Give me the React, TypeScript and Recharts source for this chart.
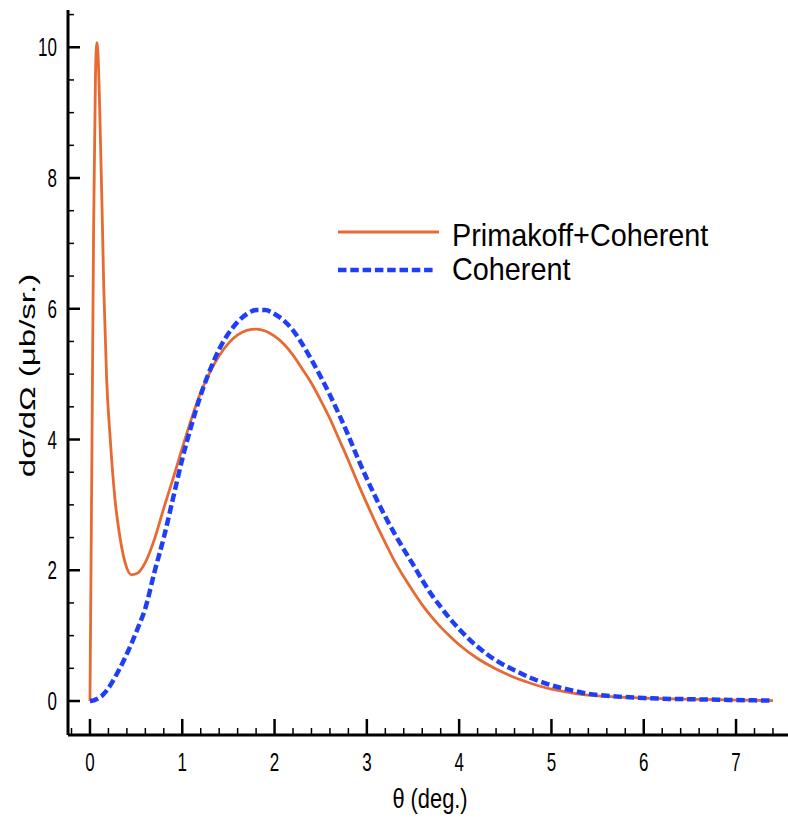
import React from 'react';
import { LineChart, Line, XAxis, YAxis, Legend } from 'recharts';

// scattering angle (deg.)
const theta = [
  0, 0.02, 0.04, 0.06, 0.075, 0.09, 0.11, 0.13, 0.15, 0.18,
  0.22, 0.27, 0.32, 0.38, 0.45, 0.52, 0.6, 0.7, 0.8, 0.9,
  1.0, 1.1, 1.2, 1.3, 1.4, 1.5, 1.6, 1.7, 1.8, 1.9,
  2.0, 2.1, 2.2, 2.3, 2.4, 2.5, 2.6, 2.7, 2.8, 2.9,
  3.0, 3.1, 3.2, 3.3, 3.4, 3.5, 3.6, 3.7, 3.8, 3.9,
  4.0, 4.2, 4.4, 4.6, 4.8, 5.0, 5.2, 5.4, 5.6, 5.8,
  6.0, 6.2, 6.4, 6.6, 6.8, 7.0, 7.2, 7.4,
];

// dσ/dΩ, Primakoff + Coherent
const primakoffCoherent = [
  0, 3.6, 7.3, 9.6, 10.07, 9.8, 8.8, 7.6, 6.3, 4.95,
  4.0, 3.1, 2.55, 2.12, 1.93, 1.96, 2.12, 2.48, 2.95, 3.4,
  3.87, 4.32, 4.72, 5.03, 5.28, 5.47, 5.6, 5.67, 5.69, 5.66,
  5.58, 5.46, 5.29, 5.08, 4.86, 4.6, 4.32, 4.0, 3.68, 3.34,
  3.02, 2.71, 2.42, 2.14, 1.9, 1.68, 1.47, 1.29, 1.13, 0.99,
  0.86, 0.65, 0.49, 0.36, 0.26, 0.18, 0.13, 0.09, 0.07, 0.055,
  0.045, 0.035, 0.03, 0.025, 0.02, 0.015, 0.01, 0.005,
];

// dσ/dΩ, Coherent only
const coherent = [
  0, 0.003, 0.01, 0.02, 0.03, 0.04, 0.06, 0.08, 0.11, 0.16,
  0.24, 0.36, 0.49, 0.66, 0.88, 1.12, 1.42, 1.98, 2.5, 3.1,
  3.7, 4.22, 4.68, 5.06, 5.38, 5.62, 5.8, 5.92, 5.98, 5.98,
  5.92, 5.82, 5.67, 5.46, 5.22, 4.96, 4.68, 4.38, 4.06, 3.72,
  3.4, 3.1, 2.82, 2.56, 2.32, 2.09, 1.85, 1.63, 1.44, 1.26,
  1.1, 0.83, 0.62, 0.47, 0.34, 0.24, 0.17, 0.11, 0.08, 0.06,
  0.045, 0.035, 0.03, 0.025, 0.02, 0.015, 0.01, 0.005,
];

const xTicks = [-0.2, 0, 0.2, 0.4, 0.6, 0.8, 1, 1.2, 1.4, 1.6, 1.8, 2, 2.2, 2.4, 2.6, 2.8, 3, 3.2, 3.4, 3.6, 3.8, 4, 4.2, 4.4, 4.6, 4.8, 5, 5.2, 5.4, 5.6, 5.8, 6, 6.2, 6.4, 6.6, 6.8, 7, 7.2, 7.4];
const yTicks = [0, 0.5, 1, 1.5, 2, 2.5, 3, 3.5, 4, 4.5, 5, 5.5, 6, 6.5, 7, 7.5, 8, 8.5, 9, 9.5, 10, 10.5];

const ORANGE = '#e66a32';
const BLUE = '#1f3ff7';
const FONT = '"Liberation Sans", Arial, Helvetica, sans-serif';

const data = theta.map((t, i) => ({ theta: t, pc: primakoffCoherent[i], coh: coherent[i] }));

const isInt = (v: number) => Math.abs(v - Math.round(v)) < 1e-6;

const XTick = (props: any) => {
  const { x, y, payload } = props;
  const v = payload.value;
  const major = isInt(v);
  return (
    <g>
      <line x1={x} y1={y} x2={x} y2={y - (major ? 16 : 7)} stroke="#000" strokeWidth={major ? 2.5 : 1.5} />
      {major && (
        <text transform={`translate(${x},${y + 36}) scale(0.68,1)`} textAnchor="middle" fontSize={25} fontFamily={FONT} fill="#000">
          {v}
        </text>
      )}
    </g>
  );
};

const YTick = (props: any) => {
  const { x, y, payload } = props;
  const v = payload.value;
  const major = isInt(v) && Math.round(v) % 2 === 0;
  return (
    <g>
      <line x1={x} y1={y} x2={x + (major ? 12 : 6)} y2={y} stroke="#000" strokeWidth={major ? 2.5 : 1.5} />
      {major && (
        <text transform={`translate(${x - 11},${y + 9}) scale(0.68,1)`} textAnchor="end" fontSize={25} fontFamily={FONT} fill="#000">
          {v}
        </text>
      )}
    </g>
  );
};

const XTitle = (props: any) => {
  const vb = props.viewBox;
  return (
    <text transform={`translate(${vb.x + vb.width / 2 + 2},${vb.y + 73}) scale(0.78,1)`} textAnchor="middle" fontSize={28} fontFamily={FONT} fill="#000">
      θ (deg.)
    </text>
  );
};

const YTitle = (props: any) => {
  const vb = props.viewBox;
  return (
    <text transform={`translate(28,${vb.y + vb.height / 2 + 3}) scale(0.66,1) rotate(-90)`} textAnchor="middle" dominantBaseline="central" fontSize={33} fontFamily={FONT} fill="#000">
      dσ/dΩ (μb/sr.)
    </text>
  );
};

const LegendBox = () => (
  <svg width={420} height={90} style={{ display: 'block' }}>
    <line x1={8} y1={27} x2={109} y2={27} stroke={ORANGE} strokeWidth={3} />
    <line x1={8} y1={65} x2={104} y2={65} stroke={BLUE} strokeWidth={4.5} strokeDasharray="8.5 3.8" />
    <text transform="translate(122,41) scale(0.9,1)" fontSize={32} fontFamily={FONT} fill="#000">Primakoff+Coherent</text>
    <text transform="translate(122,75) scale(0.9,1)" fontSize={32} fontFamily={FONT} fill="#000">Coherent</text>
  </svg>
);

export default function App() {
  return (
    <div style={{ position: 'absolute', left: 0, top: 0, width: 788, height: 819, background: '#fff' }}>
      <LineChart width={788} height={819} data={data} margin={{ top: 10, right: 0, bottom: 0, left: 0 }}>
        <XAxis
          xAxisId="x"
          dataKey="theta"
          type="number"
          domain={[-0.238, 7.563]}
          allowDataOverflow
          ticks={xTicks}
          interval={0}
          height={84}
          tickSize={0}
          tickMargin={0}
          tickLine={false}
          tick={<XTick />}
          axisLine={{ stroke: '#000', strokeWidth: 3 }}
          label={<XTitle />}
        />
        <XAxis
          xAxisId="top"
          dataKey="theta"
          type="number"
          orientation="top"
          domain={[-0.238, 7.563]}
          allowDataOverflow
          height={0}
          tick={false}
          tickLine={false}
          axisLine={{ stroke: '#000', strokeWidth: 4 }}
        />
        <YAxis
          type="number"
          domain={[-0.52, 10.57]}
          allowDataOverflow
          ticks={yTicks}
          interval={0}
          width={68}
          tickSize={0}
          tickMargin={0}
          tickLine={false}
          tick={<YTick />}
          axisLine={{ stroke: '#000', strokeWidth: 3 }}
          label={<YTitle />}
        />
        <Legend
          layout="vertical"
          align="center"
          verticalAlign="middle"
          content={<LegendBox />}
          wrapperStyle={{ position: 'absolute', left: 330, top: 205, width: 420, height: 90 }}
        />
        <Line
          xAxisId="x"
          name="Primakoff+Coherent"
          type="monotone"
          dataKey="pc"
          stroke={ORANGE}
          strokeWidth={2.8}
          dot={false}
          isAnimationActive={false}
        />
        <Line
          xAxisId="x"
          name="Coherent"
          type="monotone"
          dataKey="coh"
          stroke={BLUE}
          strokeWidth={4.5}
          strokeDasharray="8.5 3.8"
          dot={false}
          isAnimationActive={false}
        />
      </LineChart>
    </div>
  );
}
